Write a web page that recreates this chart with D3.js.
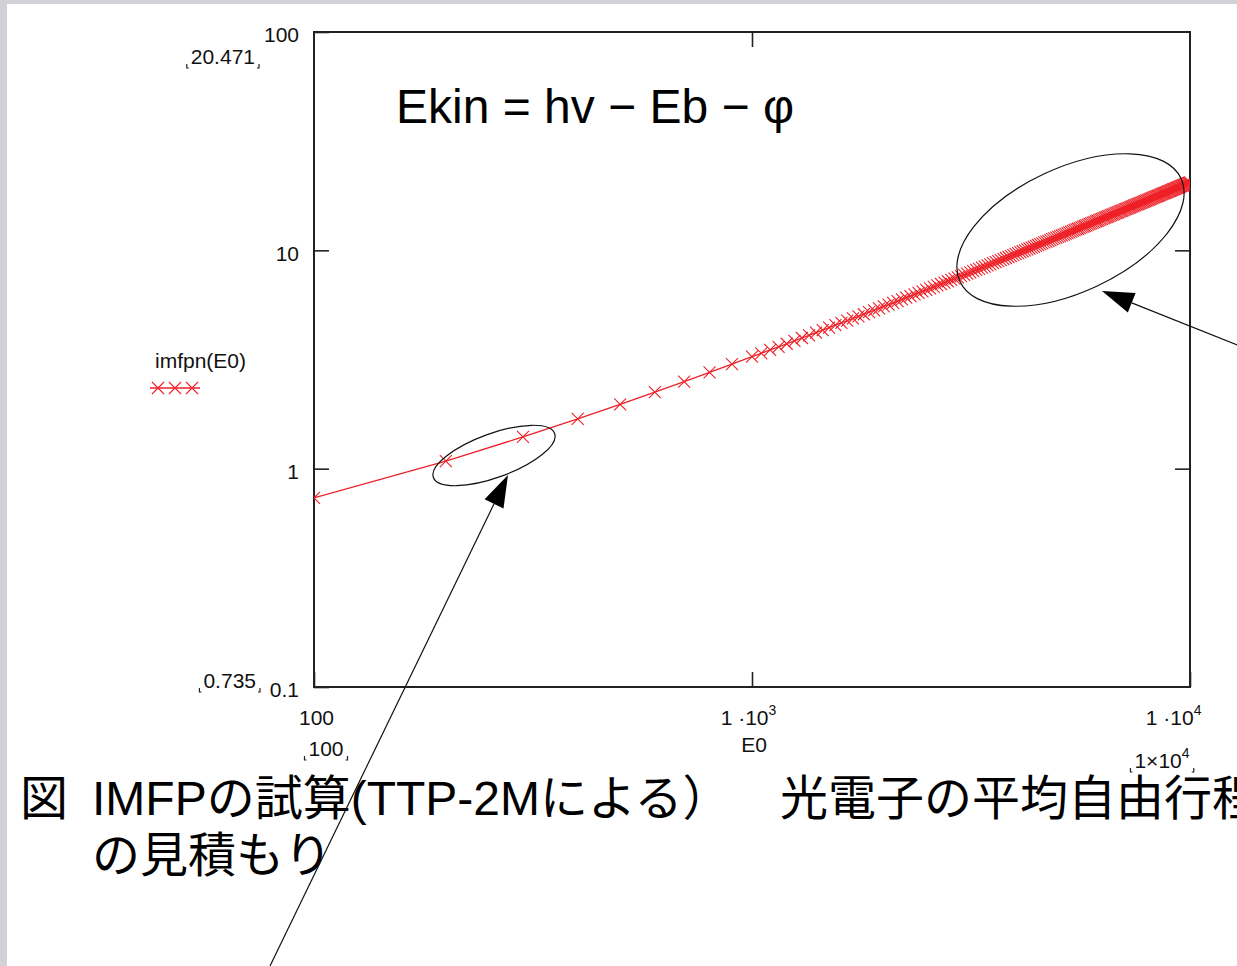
<!DOCTYPE html>
<html>
<head>
<meta charset="utf-8">
<script src="https://cdn.jsdelivr.net/npm/d3@7"></script>
<style>
  html, body { margin: 0; padding: 0; background: #fff; }
  svg { display: block; }
  .lab { font-family: "Liberation Sans Narrow", "Liberation Sans", Arial, sans-serif; font-size: 21px; fill: #111; }
  .sup { font-size: 14px; }
  .formula { font-family: "Liberation Sans", Arial, sans-serif; font-size: 48px; fill: #000; }
  .caption { font-family: "Liberation Sans", "Noto Sans CJK JP", sans-serif; font-size: 48px; fill: #000; }
</style>
</head>
<body>
<script>
// Kinetic energy grid (eV): 100 eV steps up to 1 keV
const E0_low = [100, 200, 300, 400, 500, 600, 700, 800, 900, 1000];
const imfp_low = [0.735, 1.083, 1.397, 1.692, 1.972, 2.243, 2.505, 2.761, 3.010, 3.256];

// 50 eV steps from 1.05 keV to 10 keV
const E0_high = [
  1050, 1100, 1150, 1200, 1250, 1300, 1350, 1400, 1450, 1500,
  1550, 1600, 1650, 1700, 1750, 1800, 1850, 1900, 1950, 2000,
  2050, 2100, 2150, 2200, 2250, 2300, 2350, 2400, 2450, 2500,
  2550, 2600, 2650, 2700, 2750, 2800, 2850, 2900, 2950, 3000,
  3050, 3100, 3150, 3200, 3250, 3300, 3350, 3400, 3450, 3500,
  3550, 3600, 3650, 3700, 3750, 3800, 3850, 3900, 3950, 4000,
  4050, 4100, 4150, 4200, 4250, 4300, 4350, 4400, 4450, 4500,
  4550, 4600, 4650, 4700, 4750, 4800, 4850, 4900, 4950, 5000,
  5050, 5100, 5150, 5200, 5250, 5300, 5350, 5400, 5450, 5500,
  5550, 5600, 5650, 5700, 5750, 5800, 5850, 5900, 5950, 6000,
  6050, 6100, 6150, 6200, 6250, 6300, 6350, 6400, 6450, 6500,
  6550, 6600, 6650, 6700, 6750, 6800, 6850, 6900, 6950, 7000,
  7050, 7100, 7150, 7200, 7250, 7300, 7350, 7400, 7450, 7500,
  7550, 7600, 7650, 7700, 7750, 7800, 7850, 7900, 7950, 8000,
  8050, 8100, 8150, 8200, 8250, 8300, 8350, 8400, 8450, 8500,
  8550, 8600, 8650, 8700, 8750, 8800, 8850, 8900, 8950, 9000,
  9050, 9100, 9150, 9200, 9250, 9300, 9350, 9400, 9450, 9500,
  9550, 9600, 9650, 9700, 9750, 9800, 9850, 9900, 9950, 10000
];
const imfp_high = [
  3.377, 3.497, 3.615, 3.734, 3.851, 3.967, 4.083, 4.198, 4.313, 4.426,
  4.539, 4.652, 4.764, 4.875, 4.986, 5.096, 5.206, 5.315, 5.424, 5.533,
  5.641, 5.748, 5.856, 5.962, 6.069, 6.175, 6.281, 6.386, 6.491, 6.596,
  6.700, 6.804, 6.908, 7.011, 7.114, 7.217, 7.319, 7.422, 7.524, 7.626,
  7.727, 7.828, 7.929, 8.030, 8.130, 8.231, 8.331, 8.431, 8.530, 8.630,
  8.729, 8.828, 8.927, 9.025, 9.124, 9.222, 9.320, 9.418, 9.515, 9.613,
  9.710, 9.807, 9.904, 10.001, 10.097, 10.194, 10.290, 10.386, 10.482, 10.578,
  10.673, 10.769, 10.864, 10.959, 11.054, 11.149, 11.244, 11.339, 11.433, 11.527,
  11.622, 11.716, 11.810, 11.903, 11.997, 12.091, 12.184, 12.278, 12.371, 12.464,
  12.557, 12.650, 12.742, 12.835, 12.927, 13.020, 13.112, 13.204, 13.296, 13.388,
  13.480, 13.572, 13.663, 13.755, 13.846, 13.938, 14.029, 14.120, 14.211, 14.302,
  14.393, 14.483, 14.574, 14.665, 14.755, 14.845, 14.936, 15.026, 15.116, 15.206,
  15.296, 15.386, 15.476, 15.565, 15.655, 15.744, 15.833, 15.923, 16.012, 16.101,
  16.190, 16.279, 16.368, 16.457, 16.546, 16.634, 16.723, 16.812, 16.900, 16.988,
  17.077, 17.165, 17.253, 17.341, 17.429, 17.517, 17.605, 17.693, 17.780, 17.868,
  17.956, 18.043, 18.131, 18.218, 18.305, 18.393, 18.480, 18.567, 18.654, 18.741,
  18.828, 18.915, 19.002, 19.089, 19.175, 19.262, 19.348, 19.435, 19.521, 19.608,
  19.694, 19.780, 19.866, 19.952, 20.039, 20.125, 20.211, 20.296, 20.382, 20.471
];

const yTickValues = [0.1, 1, 10, 100];
const yTickLabels = ["0.1", "1", "10", "100"];
const xTickValues = [100, 1000, 10000];
const xDomain = [100, 10000];
const yDomain = [0.1, 100];
const seriesName = "imfpn(E0)";
const xTitle = "E0";
const formulaText = "Ekin = hv \u2212 Eb \u2212 \u03c6";
const captionMark = "図";
const captionLine1a = "IMFPの試算(TTP-2Mによる）";
const captionLine1b = "光電子の平均自由行程";
const captionLine2 = "の見積もり";

const W = 1237, H = 966;
const plot = { left: 314, right: 1190, top: 32, bottom: 687 };
const red = "#ee2027";

const E0 = E0_low.concat(E0_high);
const imfp = imfp_low.concat(imfp_high);
const points = E0.map((e, i) => ({ e, v: imfp[i] }));

const svg = d3.select("body").append("svg").attr("width", W).attr("height", H);

// page background with grey frame on top and left
svg.append("rect").attr("width", W).attr("height", H).attr("fill", "#fff");
svg.append("rect").attr("width", W).attr("height", 4).attr("fill", "#d2d2d6");
svg.append("rect").attr("width", 7).attr("height", H).attr("fill", "#d2d2d6");

const x = d3.scaleLog().domain(xDomain).range([plot.left, plot.right]);
const y = d3.scaleLog().domain(yDomain).range([plot.bottom, plot.top]);

function styleAxis(g) {
  g.attr("font-size", null).attr("font-family", null);
  g.select(".domain").remove();
  g.selectAll(".tick line").attr("stroke", "#222").attr("stroke-width", 1.6);
  g.selectAll(".tick text").attr("class", "lab").attr("fill", null);
}

// left axis: inward ticks, labels outside
svg.append("g")
  .attr("transform", `translate(${plot.left},0)`)
  .call(d3.axisLeft(y).tickValues(yTickValues).tickSizeInner(-15).tickSizeOuter(0)
    .tickPadding(15).tickFormat((d, i) => yTickLabels[i]))
  .call(styleAxis)
  .call(g => g.selectAll(".tick text").attr("y", 3));

// right axis ticks
svg.append("g")
  .attr("transform", `translate(${plot.right},0)`)
  .call(d3.axisRight(y).tickValues(yTickValues.slice(1, 3)).tickSizeInner(-15).tickSizeOuter(0).tickFormat(""))
  .call(styleAxis);

// top axis ticks
svg.append("g")
  .attr("transform", `translate(0,${plot.top})`)
  .call(d3.axisTop(x).tickValues(xTickValues.slice(1, 2)).tickSizeInner(-15).tickSizeOuter(0).tickFormat(""))
  .call(styleAxis);

// bottom axis with power-of-ten labels
const bottom = svg.append("g")
  .attr("transform", `translate(0,${plot.bottom})`)
  .call(d3.axisBottom(x).tickValues(xTickValues).tickSizeInner(-15).tickSizeOuter(0)
    .tickPadding(23).tickFormat(() => ""))
  .call(styleAxis);

bottom.selectAll(".tick text").each(function (d, i, nodes) {
  const t = d3.select(this);
  const p = Math.round(Math.log10(d));
  if (p <= 2) {
    t.text(String(d)).attr("dx", 2);
  } else {
    t.append("tspan").text("1 \u00b710");
    t.append("tspan").attr("class", "sup").attr("dy", -10).text(String(p));
    if (i === nodes.length - 1) t.attr("text-anchor", "end").attr("dx", 11);
    else t.attr("dx", -4);
  }
});

// axis title
svg.append("text").attr("class", "lab").attr("text-anchor", "middle")
  .attr("x", x(1000) + 2).attr("y", plot.bottom + 65).text(xTitle);

// plot frame
svg.append("rect")
  .attr("x", plot.left).attr("y", plot.top)
  .attr("width", plot.right - plot.left).attr("height", plot.bottom - plot.top)
  .attr("fill", "none").attr("stroke", "#222").attr("stroke-width", 2);

// limit placeholders with corner brackets
function limitLabel(px, py, base, sup, anchor) {
  const g = svg.append("g");
  const t = g.append("text").attr("class", "lab").attr("x", px).attr("y", py)
    .attr("text-anchor", anchor);
  t.append("tspan").text(base);
  if (sup) t.append("tspan").attr("class", "sup").attr("dy", -10).text(sup);
  const b = t.node().getBBox();
  const by = py + 4;
  g.append("path")
    .attr("d", `M${b.x - 4},${by - 4}V${by}H${b.x - 2}M${b.x + b.width + 4},${by - 4}V${by}H${b.x + b.width + 2}`)
    .attr("fill", "none").attr("stroke", "#222").attr("stroke-width", 1.2);
}
const fmt3 = d3.format(".3f");
limitLabel(255, 64, fmt3(d3.max(imfp)), null, "end");
limitLabel(256, 688, fmt3(d3.min(imfp)), null, "end");
limitLabel(326, 756, String(d3.min(E0)), null, "middle");
limitLabel(1162, 768, "1\u00d710", String(Math.round(Math.log10(d3.max(E0)))), "middle");

// data: line trace plus x markers, clipped to the plot area
svg.append("clipPath").attr("id", "plotClip")
  .append("rect").attr("x", plot.left).attr("y", plot.top)
  .attr("width", plot.right - plot.left).attr("height", plot.bottom - plot.top);

const dataG = svg.append("g").attr("clip-path", "url(#plotClip)");
const line = d3.line().x(d => x(d.e)).y(d => y(d.v));
dataG.append("path").datum(points).attr("d", line)
  .attr("fill", "none").attr("stroke", red).attr("stroke-width", 1.3);

const cross = "M-6,-6L6,6M-6,6L6,-6";
dataG.selectAll("path.mk").data(points).join("path")
  .attr("class", "mk")
  .attr("transform", d => `translate(${x(d.e)},${y(d.v)})`)
  .attr("d", cross).attr("fill", "none").attr("stroke", red).attr("stroke-width", 1.1);

// legend
svg.append("text").attr("class", "lab").attr("x", 155).attr("y", 368).text(seriesName);
svg.append("line").attr("x1", 150).attr("x2", 200).attr("y1", 388).attr("y2", 388)
  .attr("stroke", red).attr("stroke-width", 1.3);
[158, 175, 192].forEach(cx => {
  svg.append("path").attr("transform", `translate(${cx},388)`).attr("d", cross)
    .attr("fill", "none").attr("stroke", red).attr("stroke-width", 1.1);
});

// formula
svg.append("text").attr("class", "formula").attr("x", 396).attr("y", 123).text(formulaText);

// annotation ellipses
const ann = svg.append("g").attr("fill", "none").attr("stroke", "#111").attr("stroke-width", 1.2);
ann.append("ellipse").attr("cx", 0).attr("cy", 0).attr("rx", 122).attr("ry", 62)
  .attr("transform", "translate(1070.5,230) rotate(-25)");
ann.append("ellipse").attr("cx", 0).attr("cy", 0).attr("rx", 64.5).attr("ry", 22)
  .attr("transform", "translate(494,455.5) rotate(-20)");

// arrows: thin shaft with filled triangular head
function arrow(tip, tail) {
  const dx = tail[0] - tip[0], dy = tail[1] - tip[1];
  const len = Math.hypot(dx, dy);
  const ux = dx / len, uy = dy / len;
  const hl = 32, hw = 10.5;
  const bx = tip[0] + ux * hl, by = tip[1] + uy * hl;
  svg.append("line").attr("x1", bx).attr("y1", by).attr("x2", tail[0]).attr("y2", tail[1])
    .attr("stroke", "#111").attr("stroke-width", 1.2);
  svg.append("path")
    .attr("d", `M${tip[0]},${tip[1]}L${bx - uy * hw},${by + ux * hw}L${bx + uy * hw},${by - ux * hw}Z`)
    .attr("fill", "#000");
}

// caption
svg.append("text").attr("class", "caption").attr("x", 20).attr("y", 815).text(captionMark);
svg.append("text").attr("class", "caption").attr("x", 92).attr("y", 815).text(captionLine1a);
svg.append("text").attr("class", "caption").attr("x", 780).attr("y", 815).text(captionLine1b);
svg.append("text").attr("class", "caption").attr("x", 92).attr("y", 872).text(captionLine2);

arrow([1102, 291], [1250, 350]);
arrow([508, 475], [270, 966]);
</script>
</body>
</html>
